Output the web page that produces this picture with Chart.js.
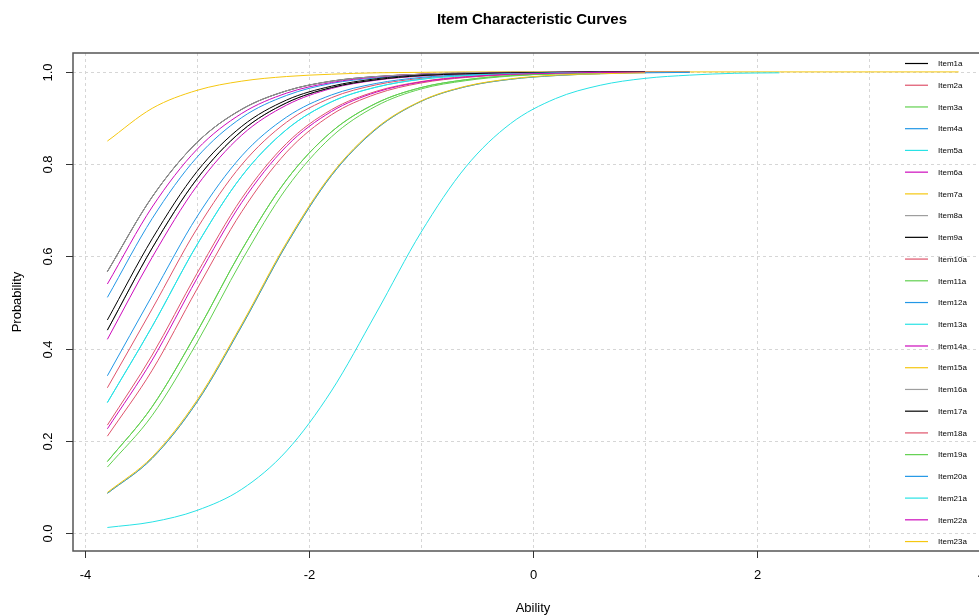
<!DOCTYPE html>
<html>
<head>
<meta charset="utf-8">
<script src="https://cdn.jsdelivr.net/npm/chart.js@4.4.1/dist/chart.umd.min.js"></script>
<style>
  html, body { margin: 0; padding: 0; background: #ffffff; }
  #wrap { width: 979px; height: 616px; position: relative; }
</style>
</head>
<body>
<div id="wrap"><canvas id="icc"></canvas></div>
<script>
// ability grid shared by all items
const theta = [-3.8, -3.4, -3.0, -2.6, -2.2, -1.8, -1.4, -1.0, -0.6, -0.2, 0.2, 0.6, 1.0, 1.4, 1.8, 2.2, 2.6, 3.0, 3.4, 3.8];

// probability (arrays stop where the curve stops)
const item1a  = [0.567, 0.729, 0.847, 0.919, 0.959, 0.980, 0.990, 0.995, 0.998, 0.999, 0.999, 1.000, 1.000];
const item2a  = [0.315, 0.486, 0.660, 0.799, 0.891, 0.944, 0.972, 0.986, 0.993, 0.997, 0.998, 0.999, 1.000];
const item3a  = [0.155, 0.274, 0.436, 0.614, 0.766, 0.870, 0.932, 0.966, 0.983, 0.992, 0.996, 0.998, 0.999];
const item4a  = [0.511, 0.682, 0.815, 0.901, 0.949, 0.975, 0.987, 0.994, 0.997, 0.999, 0.999, 1.000, 1.000, 1.000];
const item5a  = [0.283, 0.448, 0.625, 0.774, 0.875, 0.935, 0.967, 0.984, 0.992, 0.996, 0.998, 0.999, 1.000];
const item6a  = [0.540, 0.707, 0.832, 0.910, 0.954, 0.977, 0.989, 0.995, 0.997, 0.999, 0.999, 1.000, 1.000, 1.000];
const item7a  = [0.850, 0.921, 0.960, 0.980, 0.990, 0.995, 0.998, 0.999, 1.000, 1.000, 1.000, 1.000, 1.000, 1.000, 1.000, 1.000, 1.000, 1.000, 1.000, 1.000];
const item8a  = [0.567, 0.729, 0.847, 0.919, 0.959, 0.980, 0.990, 0.995, 0.998, 0.999, 0.999, 1.000];
const item9a  = [0.462, 0.638, 0.784, 0.882, 0.939, 0.969, 0.985, 0.993, 0.996, 0.998, 0.999, 1.000, 1.000];
const item10a = [0.234, 0.386, 0.563, 0.726, 0.845, 0.918, 0.958, 0.979, 0.990, 0.995, 0.998, 0.999, 0.999];
const item11a = [0.143, 0.255, 0.413, 0.591, 0.748, 0.859, 0.926, 0.963, 0.981, 0.991, 0.996, 0.998, 0.999];
const item12a = [0.341, 0.515, 0.686, 0.818, 0.902, 0.950, 0.975, 0.988, 0.994, 0.997, 0.999, 0.999, 1.000];
const item13a = [0.012, 0.024, 0.049, 0.095, 0.178, 0.308, 0.477, 0.652, 0.794, 0.888, 0.942, 0.971, 0.986, 0.993, 0.997, 0.998];
const item14a = [0.420, 0.598, 0.753, 0.863, 0.928, 0.964, 0.982, 0.991, 0.996, 0.998, 0.999, 1.000, 1.000];
const item15a = [0.086, 0.162, 0.284, 0.449, 0.626, 0.775, 0.876, 0.936, 0.968, 0.984, 0.992, 0.996];
const item16a = [0.440, 0.618, 0.768, 0.872, 0.933, 0.966, 0.983, 0.992, 0.996, 0.998, 0.999, 1.000, 1.000];
const item17a = [0.440, 0.618, 0.768, 0.872, 0.933, 0.966, 0.983, 0.992, 0.996, 0.998, 0.999, 1.000, 1.000];
const item18a = [0.210, 0.353, 0.529, 0.697, 0.826, 0.907, 0.952, 0.976, 0.988, 0.994, 0.997, 0.999, 0.999];
const item19a = [0.155, 0.274, 0.436, 0.614, 0.766, 0.870, 0.932, 0.966, 0.983, 0.992, 0.996, 0.998];
const item20a = [0.086, 0.162, 0.284, 0.449, 0.626, 0.775, 0.876, 0.936, 0.968, 0.984, 0.992, 0.996, 0.998, 0.999];
const item21a = [0.283, 0.448, 0.625, 0.774, 0.875, 0.935, 0.967, 0.984, 0.992, 0.996, 0.998, 0.999];
const item22a = [0.226, 0.375, 0.552, 0.717, 0.839, 0.914, 0.956, 0.978, 0.989, 0.995, 0.997, 0.999, 0.999];
const item23a = [0.088, 0.165, 0.288, 0.453, 0.630, 0.778, 0.878, 0.937, 0.969, 0.985, 0.993, 0.996, 0.998];

const itemNames = ['Item1a', 'Item2a', 'Item3a', 'Item4a', 'Item5a', 'Item6a', 'Item7a', 'Item8a',
  'Item9a', 'Item10a', 'Item11a', 'Item12a', 'Item13a', 'Item14a', 'Item15a', 'Item16a',
  'Item17a', 'Item18a', 'Item19a', 'Item20a', 'Item21a', 'Item22a', 'Item23a'];
const itemValues = [item1a, item2a, item3a, item4a, item5a, item6a, item7a, item8a,
  item9a, item10a, item11a, item12a, item13a, item14a, item15a, item16a,
  item17a, item18a, item19a, item20a, item21a, item22a, item23a];

// R default palette, recycled
const palette = ['#000000', '#DF536B', '#61D04F', '#2297E6', '#28E2E5', '#CD0BBC', '#F5C710', '#9E9E9E'];

const xTickLabels = [-4, -2, 0, 2, 4];
const xGridValues = [-4, -3, -2, -1, 0, 1, 2, 3];
const yTickLabels = [0, 0.2, 0.4, 0.6, 0.8, 1.0];

const FONT = '"Liberation Sans", Arial, sans-serif';

const datasets = itemValues.map((vals, i) => ({
  label: itemNames[i],
  data: vals.map((v, k) => ({ x: theta[k], y: v })),
  borderColor: palette[i % palette.length],
  borderWidth: 1,
  pointRadius: 0,
  fill: false,
  cubicInterpolationMode: 'monotone',
  order: itemValues.length - i   // later items on top, like R
}));

const rStyle = {
  id: 'rStyle',
  beforeDatasetsDraw(chart) {
    const { ctx, chartArea: a, scales: { x, y } } = chart;
    ctx.save();
    ctx.strokeStyle = '#d6d6d6';
    ctx.lineWidth = 1;
    ctx.setLineDash([3, 3]);
    xGridValues.forEach(v => {
      const px = Math.round(x.getPixelForValue(v)) + 0.5;
      ctx.beginPath(); ctx.moveTo(px, a.top); ctx.lineTo(px, a.bottom); ctx.stroke();
    });
    yTickLabels.forEach(v => {
      const py = Math.round(y.getPixelForValue(v)) + 0.5;
      ctx.beginPath(); ctx.moveTo(a.left, py); ctx.lineTo(a.right, py); ctx.stroke();
    });
    ctx.restore();
  },
  afterDraw(chart) {
    const { ctx, chartArea: a, scales: { x, y } } = chart;
    ctx.save();

    // box (right side runs off the page)
    ctx.strokeStyle = '#555555';
    ctx.lineWidth = 1.5;
    ctx.strokeRect(a.left, a.top, a.right + 30 - a.left, a.bottom - a.top);

    // ticks + labels
    ctx.lineWidth = 1;
    ctx.strokeStyle = '#333333';
    ctx.fillStyle = '#000000';
    ctx.font = '13px ' + FONT;
    ctx.textAlign = 'center';
    ctx.textBaseline = 'middle';
    xTickLabels.forEach(v => {
      const px = Math.round(x.getPixelForValue(v)) + 0.5;
      ctx.beginPath(); ctx.moveTo(px, a.bottom); ctx.lineTo(px, a.bottom + 7); ctx.stroke();
      ctx.fillText(String(v), px, a.bottom + 24);
    });
    yTickLabels.forEach(v => {
      const py = Math.round(y.getPixelForValue(v)) + 0.5;
      ctx.beginPath(); ctx.moveTo(a.left - 7, py); ctx.lineTo(a.left, py); ctx.stroke();
      ctx.save();
      ctx.translate(a.left - 25, py);
      ctx.rotate(-Math.PI / 2);
      ctx.fillText(v.toFixed(1), 0, 0);
      ctx.restore();
    });

    // axis titles
    ctx.font = '13px ' + FONT;
    ctx.fillText('Ability', 533, 608);
    ctx.save();
    ctx.translate(17, (a.top + a.bottom) / 2);
    ctx.rotate(-Math.PI / 2);
    ctx.fillText('Probability', 0, 0);
    ctx.restore();

    // main title
    ctx.font = 'bold 15px ' + FONT;
    ctx.fillText('Item Characteristic Curves', 532, 20);

    // legend inside the plot, top right
    ctx.font = '8px ' + FONT;
    ctx.textAlign = 'left';
    itemNames.forEach((name, i) => {
      const ly = a.top + 10.5 + i * 21.73;
      ctx.strokeStyle = palette[i % palette.length];
      ctx.lineWidth = 1.2;
      ctx.beginPath(); ctx.moveTo(905, ly); ctx.lineTo(928, ly); ctx.stroke();
      ctx.fillStyle = '#000000';
      ctx.fillText(name, 938, ly + 0.5);
    });
    ctx.restore();
  }
};

new Chart(document.getElementById('icc'), {
  type: 'line',
  data: { datasets },
  options: {
    responsive: true,
    maintainAspectRatio: false,
    animation: false,
    layout: { padding: { left: 73, top: 53, right: 0, bottom: 65 } },
    scales: {
      x: { type: 'linear', min: -4.107, max: 3.982, display: false },
      y: { type: 'linear', min: -0.039, max: 1.041, display: false }
    },
    plugins: {
      legend: { display: false },
      tooltip: { enabled: false }
    }
  },
  plugins: [rStyle]
});
</script>
</body>
</html>
